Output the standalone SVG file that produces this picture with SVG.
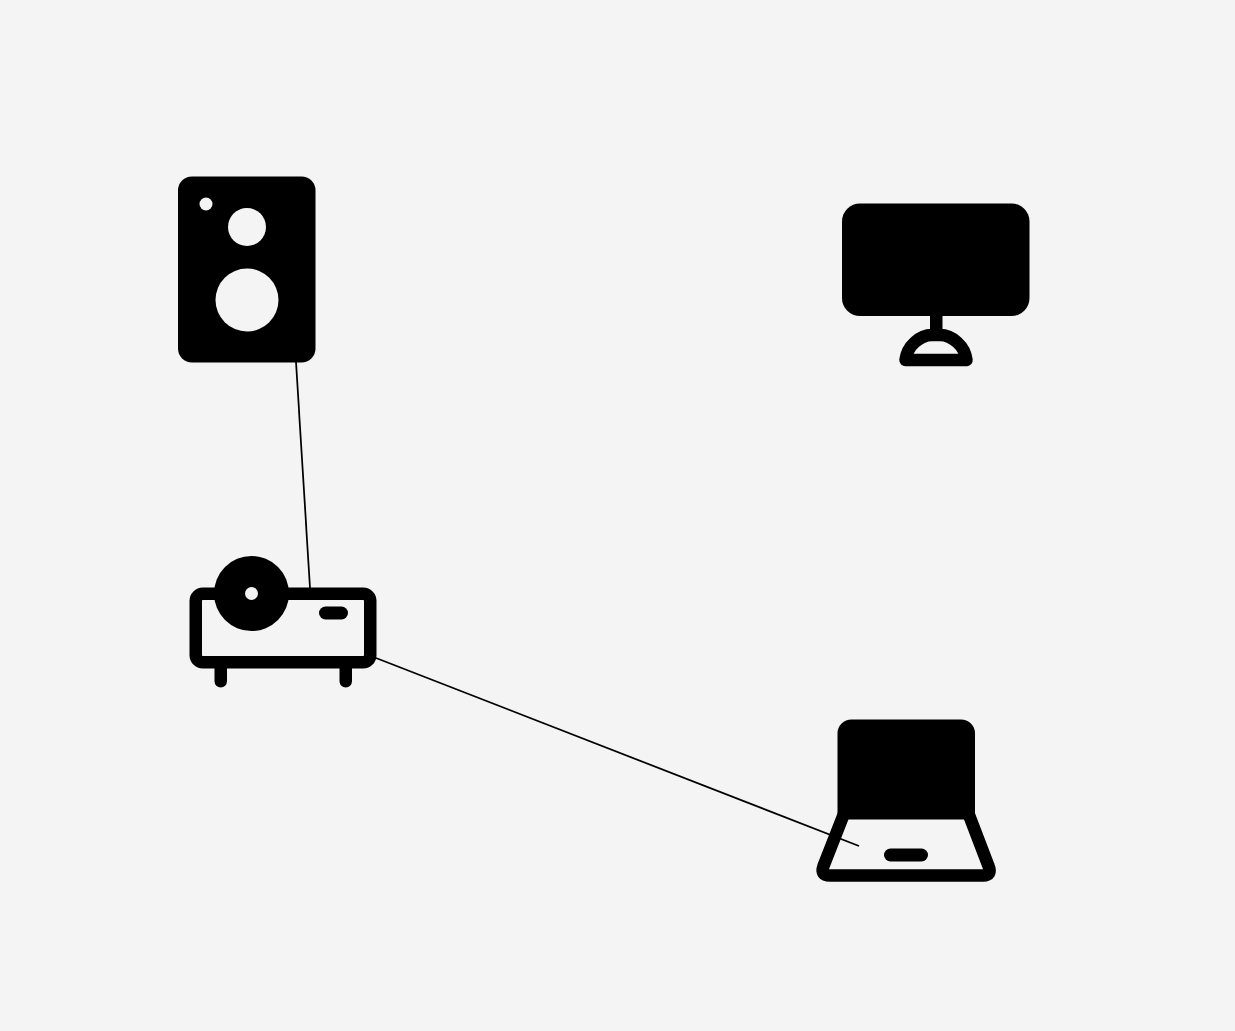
<svg xmlns="http://www.w3.org/2000/svg" width="1235" height="1031" viewBox="0 0 1235 1031">
<style>
.k{fill:#000}
.h{fill:#f4f4f4}
.o{fill:none;stroke:#000;stroke-width:12.5;stroke-linejoin:round;stroke-linecap:round}
.c{fill:none;stroke:#000;stroke-width:1.75}
</style>
<rect width="1235" height="1031" fill="#f4f4f4"/>
<g id="connectors">
<line class="c" x1="296" y1="362" x2="310" y2="588"/>
<line class="c" x1="376" y1="658" x2="859" y2="846"/>
</g>
<g id="speaker">
<rect class="k" x="178" y="176.5" width="137.5" height="186" rx="14"/>
<circle class="h" cx="206" cy="204" r="6.5"/>
<circle class="h" cx="247" cy="227" r="19"/>
<circle class="h" cx="247" cy="300" r="31.5"/>
</g>
<g id="monitor">
<rect class="k" x="842" y="203.5" width="187.5" height="112.5" rx="18"/>
<rect class="k" x="930" y="316" width="12.5" height="20"/>
<path class="o" d="M905.5 360C907 346 920 335 932 335H940C952 335 965 346 966.5 360Z"/>
</g>
<g id="projector">
<rect class="o" x="195.75" y="593.75" width="174.5" height="68.5" rx="7"/>
<path class="o" d="M220.75 668V681.25M345.75 668V681.25"/>
<circle class="k" cx="251.5" cy="593.5" r="37.5"/>
<circle class="h" cx="251.5" cy="593.5" r="6.5"/>
<rect class="k" x="319" y="606.5" width="29" height="13" rx="6.5"/>
</g>
<g id="laptop">
<path class="k" d="M851.5 719.5H961A14 14 0 0 1 975 733.5V819.5H837.5V733.5A14 14 0 0 1 851.5 719.5Z"/>
<path class="o" d="M843.5 815L823.5 866Q820 875.5 830 875.5H983Q992.5 875.5 988.5 866L969 815"/>
<rect class="k" x="884" y="848.5" width="44" height="13" rx="6.5"/>
</g>
</svg>
